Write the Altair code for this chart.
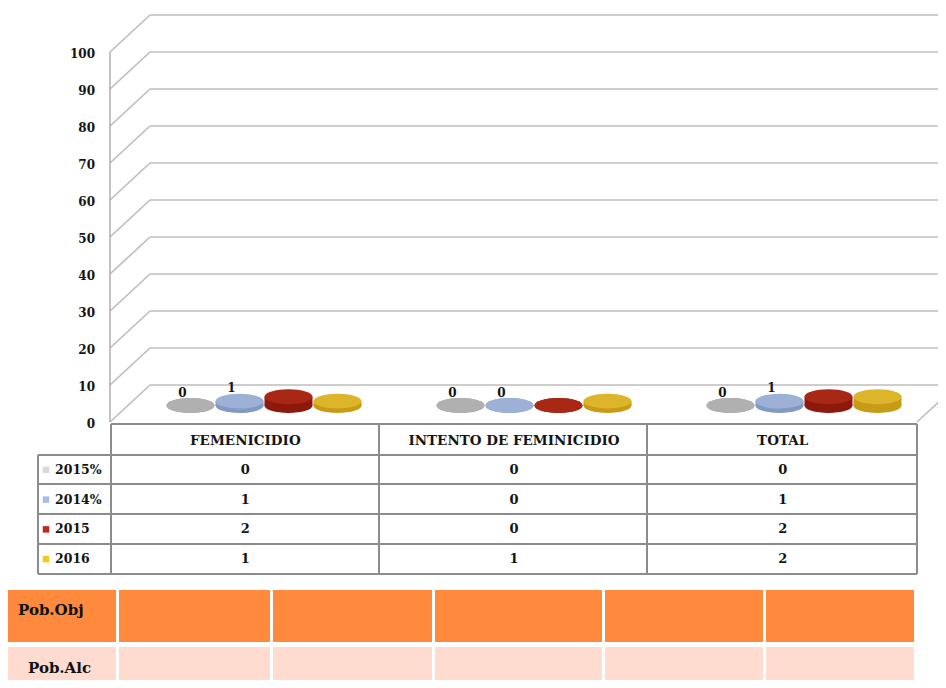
import altair as alt
import pandas as pd

# ---------------- data ----------------
categories = ["FEMENICIDIO", "INTENTO DE FEMINICIDIO", "TOTAL"]
series = ["2015%", "2014%", "2015", "2016"]
values_2015pct = [0, 0, 0]
values_2014pct = [1, 0, 1]
values_2015 = [2, 0, 2]
values_2016 = [1, 1, 2]
labeled_series = ["2015%", "2014%"]
y_ticks = [0, 10, 20, 30, 40, 50, 60, 70, 80, 90, 100]
bottom_rows = ["Pob.Obj", "Pob.Alc"]
bottom_empty_cols = 5

series_values = dict(zip(series, [values_2015pct, values_2014pct, values_2015, values_2016]))

# ---------------- style / layout ----------------
side_colors = ["#9E9E9E", "#8199C3", "#8C190B", "#C89B16"]
top_colors = ["#B0B0B0", "#9DB1D6", "#A92715", "#DDB52A"]
swatch_colors = ["#D9D9D9", "#A7BDE6", "#C0281A", "#F6C81C"]
grid_color = "#BEBEBE"
table_line = "#8C8C8C"
orange = "#FF8A3D"
pink = "#FFDBD0"
FONT = "DejaVu Serif"
TXT = "#141414"

W, H, OFF = 930, 672, 8
FRONT_Y0, FRONT_Y100 = 422, 52        # front axis pixel rows for 0 and 100
BAR_Y0, BAR_PX_PER_UNIT = 405.5, 4.4   # bars sit mid-depth
DEPTH_UNITS = 10                      # back wall offset, in value units
AX_X, BACK_X, RIGHT_X = 110, 150, 946
GROUP_START, GROUP_END = 129, 939
ELL = "M-1,0A1,0.31,0,1,0,1,0A1,0.31,0,1,0,-1,0Z"
DISC_W = 48

tbl_left, tbl_col_edges = 38, [111, 379, 647, 917]
tbl_row_edges = [424, 455, 484, 514, 544, 574]
header_y = 441
swatch_x, label_x = 46, 55
bot_cols = [(7, 116), (119, 270), (273, 432), (435, 602), (605, 763), (766, 914)]
bot_rows_y = [(590, 642), (647, 688)]
bot_label_x = [18, 28]
bot_label_y = [610, 668]


def xpx():
    return alt.Scale(domain=[OFF, OFF + W], range=[0, W], nice=False, zero=False)


def ypx():
    return alt.Scale(domain=[OFF, OFF + H], range=[0, H], nice=False, zero=False)


def yfront():
    return alt.Scale(domain=[0, 100], range=[FRONT_Y0 - OFF, FRONT_Y100 - OFF], nice=False, zero=False)


def ybar():
    return alt.Scale(domain=[0, 100], range=[BAR_Y0 - OFF, BAR_Y0 - OFF - 100 * BAR_PX_PER_UNIT],
                     nice=False, zero=False)


def xcat():
    return alt.Scale(domain=categories, range=[GROUP_START - OFF, GROUP_END - OFF],
                     paddingInner=0, paddingOuter=0)


def xoff():
    return alt.Scale(domain=series, paddingInner=0, paddingOuter=0.755)


def xtable():
    return alt.Scale(domain=categories, range=[tbl_col_edges[0] - OFF, tbl_col_edges[-1] - OFF],
                     paddingInner=0, paddingOuter=0)


def ytable():
    return alt.Scale(domain=series, range=[tbl_row_edges[1] - OFF, tbl_row_edges[-1] - OFF],
                     paddingInner=0, paddingOuter=0)


layers = []

# ---- 3D walls: gridlines ----
grid_df = pd.DataFrame({
    "v": y_ticks,
    "vb": [t + DEPTH_UNITS for t in y_ticks],
    "x0": AX_X, "x1": BACK_X, "x2": RIGHT_X,
})
layers.append(alt.Chart(grid_df).mark_rule(color=grid_color, strokeWidth=1.7).encode(
    x=alt.X("x0:Q", scale=xpx(), axis=None), x2="x1:Q",
    y=alt.Y("v:Q", scale=yfront(), axis=None), y2="vb:Q"))
layers.append(alt.Chart(grid_df).mark_rule(color=grid_color, strokeWidth=1.7).encode(
    x=alt.X("x1:Q", scale=xpx(), axis=None), x2="x2:Q",
    y=alt.Y("vb:Q", scale=yfront(), axis=None)))
axis_df = pd.DataFrame({"x": [AX_X], "lo": [y_ticks[0]], "hi": [y_ticks[-1]]})
layers.append(alt.Chart(axis_df).mark_rule(color="#A8A8A8", strokeWidth=1.4).encode(
    x=alt.X("x:Q", scale=xpx(), axis=None),
    y=alt.Y("lo:Q", scale=yfront(), axis=None), y2="hi:Q"))
floor_df = pd.DataFrame({"xa": [tbl_col_edges[-1]], "xb": [tbl_col_edges[-1] + BACK_X - AX_X],
                         "va": [0], "vb": [DEPTH_UNITS]})
layers.append(alt.Chart(floor_df).mark_rule(color=grid_color, strokeWidth=1.7).encode(
    x=alt.X("xa:Q", scale=xpx(), axis=None), x2="xb:Q",
    y=alt.Y("va:Q", scale=yfront(), axis=None), y2="vb:Q"))

# y tick labels
layers.append(alt.Chart(pd.DataFrame({"v": y_ticks, "x": 95})).mark_text(
    font=FONT, fontSize=12, fontWeight="bold", align="right", baseline="middle", dy=2,
    color=TXT).encode(
    x=alt.X("x:Q", scale=xpx(), axis=None),
    y=alt.Y("v:Q", scale=yfront(), axis=None), text="v:Q"))

# ---- cylinders (discs) ----
bars_df = pd.DataFrame([
    {"cat": c, "series": s, "value": v, "base": 0}
    for s in series for c, v in zip(categories, series_values[s])
])
for i, s in enumerate(series):
    base = alt.Chart(bars_df).transform_filter(alt.datum.series == s)
    enc_x = dict(x=alt.X("cat:N", scale=xcat(), axis=None),
                 xOffset=alt.XOffset("series:N", scale=xoff()))
    layers.append(base.mark_point(shape=ELL, size=DISC_W ** 2, filled=True, opacity=1,
                                  color=side_colors[i], strokeWidth=0).encode(
        y=alt.Y("base:Q", scale=ybar(), axis=None), **enc_x))
    layers.append(base.mark_rule(strokeWidth=DISC_W, strokeCap="butt", color=side_colors[i]).encode(
        y=alt.Y("value:Q", scale=ybar(), axis=None), y2="base:Q", **enc_x))
    layers.append(base.mark_point(shape=ELL, size=DISC_W ** 2, filled=True, opacity=1,
                                  color=top_colors[i], strokeWidth=0).encode(
        y=alt.Y("value:Q", scale=ybar(), axis=None), **enc_x))

# data labels
layers.append(alt.Chart(bars_df).transform_filter(
    alt.FieldOneOfPredicate(field="series", oneOf=labeled_series)).mark_text(
    font=FONT, fontSize=12, fontWeight="bold", dx=-8, dy=-13, baseline="middle", color=TXT).encode(
    x=alt.X("cat:N", scale=xcat(), axis=None),
    xOffset=alt.XOffset("series:N", scale=xoff()),
    y=alt.Y("value:Q", scale=ybar(), axis=None), text="value:Q"))

# ---- data table ----
hl = [{"xa": tbl_col_edges[0], "xb": tbl_col_edges[-1], "y": tbl_row_edges[0]}] + \
     [{"xa": tbl_left, "xb": tbl_col_edges[-1], "y": yy} for yy in tbl_row_edges[1:]]
vl = [{"x": tbl_left, "ya": tbl_row_edges[1], "yb": tbl_row_edges[-1]}] + \
     [{"x": xx, "ya": tbl_row_edges[0], "yb": tbl_row_edges[-1]} for xx in tbl_col_edges]
layers.append(alt.Chart(pd.DataFrame(hl)).mark_rule(color=table_line, strokeWidth=2).encode(
    x=alt.X("xa:Q", scale=xpx(), axis=None), x2="xb:Q",
    y=alt.Y("y:Q", scale=ypx(), axis=None)))
layers.append(alt.Chart(pd.DataFrame(vl)).mark_rule(color=table_line, strokeWidth=2).encode(
    x=alt.X("x:Q", scale=xpx(), axis=None),
    y=alt.Y("ya:Q", scale=ypx(), axis=None), y2="yb:Q"))

# header
layers.append(alt.Chart(pd.DataFrame({"cat": categories, "y": header_y})).mark_text(
    font=FONT, fontSize=13.5, fontWeight="bold", baseline="middle", color=TXT).encode(
    x=alt.X("cat:N", scale=xtable(), axis=None),
    y=alt.Y("y:Q", scale=ypx(), axis=None), text="cat:N"))
# legend swatches and labels
leg_df = pd.DataFrame({"series": series, "color": swatch_colors, "sx": swatch_x, "lx": label_x})
layers.append(alt.Chart(leg_df).mark_square(size=42, opacity=1).encode(
    x=alt.X("sx:Q", scale=xpx(), axis=None),
    y=alt.Y("series:N", scale=ytable(), axis=None),
    color=alt.Color("color:N", scale=None, legend=None)))
layers.append(alt.Chart(leg_df).mark_text(
    font=FONT, fontSize=12.5, fontWeight="bold", align="left", baseline="middle", color=TXT).encode(
    x=alt.X("lx:Q", scale=xpx(), axis=None),
    y=alt.Y("series:N", scale=ytable(), axis=None), text="series:N"))
# cell values
layers.append(alt.Chart(bars_df).mark_text(
    font=FONT, fontSize=13, fontWeight="bold", baseline="middle", color=TXT).encode(
    x=alt.X("cat:N", scale=xtable(), axis=None),
    y=alt.Y("series:N", scale=ytable(), axis=None), text="value:Q"))

# ---- bottom orange table ----
cells = []
for r, name in enumerate(bottom_rows):
    for c in range(bottom_empty_cols + 1):
        cells.append({"x0": bot_cols[c][0], "x1": bot_cols[c][1],
                      "y0": bot_rows_y[r][0], "y1": bot_rows_y[r][1],
                      "fill": orange if r == 0 else pink})
layers.append(alt.Chart(pd.DataFrame(cells)).mark_rect(opacity=1).encode(
    x=alt.X("x0:Q", scale=xpx(), axis=None), x2="x1:Q",
    y=alt.Y("y0:Q", scale=ypx(), axis=None), y2="y1:Q",
    color=alt.Color("fill:N", scale=None, legend=None)))
bl_df = pd.DataFrame({"name": bottom_rows, "x": bot_label_x, "y": bot_label_y})
layers.append(alt.Chart(bl_df).mark_text(
    font=FONT, fontSize=15, fontWeight="bold", align="left", baseline="middle", color="#111111").encode(
    x=alt.X("x:Q", scale=xpx(), axis=None),
    y=alt.Y("y:Q", scale=ypx(), axis=None), text="name:N"))

chart = alt.layer(*layers).resolve_scale(x="independent", y="independent").properties(
    width=W, height=H, padding=0, autosize=alt.AutoSizeParams(type="none"),
    background="white").configure_view(stroke=None)

chart.save("out.html", embed_options={"renderer": "svg", "actions": False})
